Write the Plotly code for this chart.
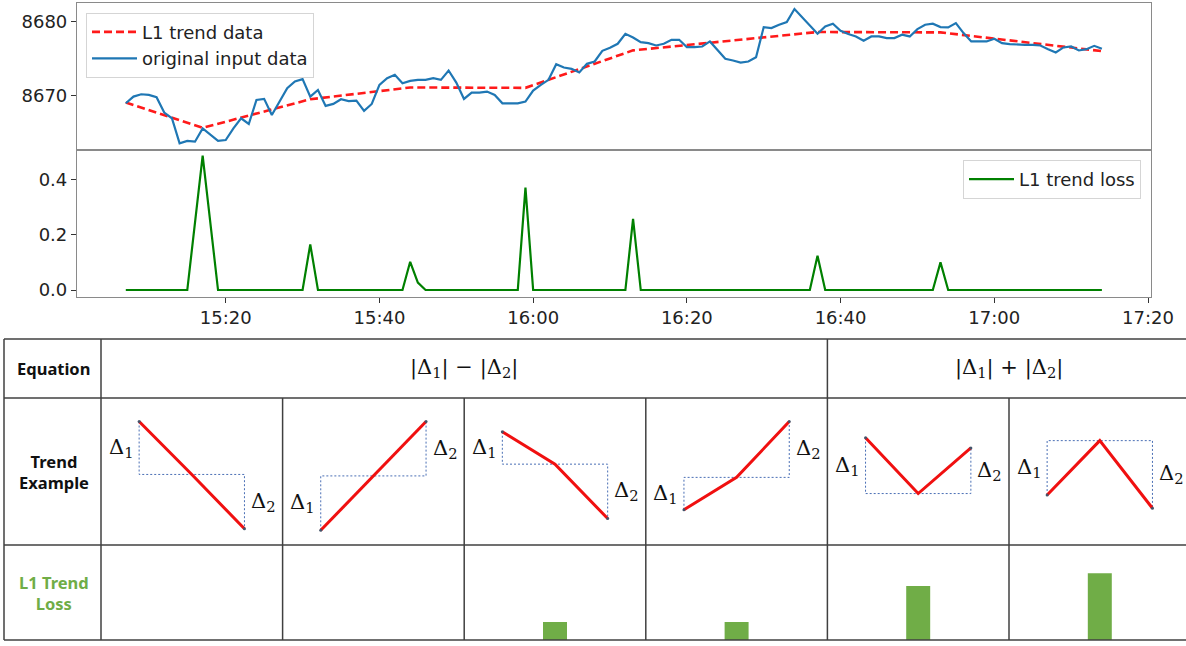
import pandas as pd
import plotly.graph_objects as go

W, H = 1186, 646
DAY = "2019-01-01 "

# ---- time series: one sample per minute from 15:07 to 17:14 ----
price = [
    8668.90, 8669.81, 8670.13, 8670.04, 8669.72, 8667.63, 8666.86, 8663.45, 8663.77, 8663.67,
    8665.49, 8664.58, 8663.77, 8663.90, 8665.49, 8666.86, 8666.08, 8669.36, 8669.50, 8667.31,
    8669.13, 8670.95, 8671.86, 8672.18, 8669.81, 8670.72, 8668.54, 8668.81, 8669.45, 8669.20,
    8669.25, 8667.86, 8668.81, 8671.40, 8672.31, 8672.77, 8671.63, 8671.95, 8672.09, 8672.09,
    8672.31, 8672.09, 8673.36, 8671.72, 8669.49, 8670.36, 8670.36, 8670.49, 8670.04, 8668.90,
    8668.90, 8668.90, 8669.13, 8670.63, 8671.40, 8672.09, 8674.22, 8673.77, 8673.59, 8673.09,
    8674.27, 8674.59, 8676.04, 8676.45, 8677.00, 8678.36, 8677.86, 8677.22, 8677.09, 8676.77,
    8677.00, 8677.54, 8677.54, 8676.54, 8676.54, 8676.63, 8677.32, 8676.09, 8674.95, 8674.72,
    8674.45, 8674.59, 8675.18, 8679.27, 8679.13, 8679.59, 8679.95, 8681.73, 8680.64, 8679.59,
    8678.36, 8679.36, 8679.73, 8678.77, 8678.32, 8678.00, 8677.41, 8678.00, 8678.00, 8677.77,
    8677.77, 8678.23, 8678.00, 8679.00, 8679.59, 8679.73, 8679.27, 8679.23, 8679.82, 8678.45,
    8677.32, 8677.32, 8677.32, 8677.68, 8677.09, 8676.95, 8676.86, 8676.86, 8676.86, 8676.77,
    8676.27, 8675.81, 8676.50, 8676.63, 8676.09, 8676.27, 8676.72, 8676.32,
]
price_times = pd.date_range(DAY + "15:07", periods=len(price), freq="min")

# piecewise-linear L1 trend (knots)
trend_times = ["15:07", "15:17", "15:31", "15:44", "15:59", "16:13", "16:37", "16:53", "17:14"]
trend_vals = [8669.0, 8665.55, 8669.45, 8671.05, 8671.0, 8676.1, 8678.6, 8678.55, 8676.0]

# L1 trend loss (knots)
loss_times = ["15:07", "15:15", "15:17", "15:19", "15:30", "15:31", "15:32", "15:43", "15:44",
              "15:45", "15:46", "15:58", "15:59", "16:00", "16:12", "16:13", "16:14", "16:36",
              "16:37", "16:38", "16:52", "16:53", "16:54", "17:14"]
loss_vals = [0, 0, 0.486, 0, 0, 0.165, 0, 0, 0.102,
             0.027, 0, 0, 0.37, 0, 0, 0.257, 0, 0,
             0.124, 0, 0, 0.10, 0, 0]

# ---- explanatory table ----
row_labels = ["Equation", "Trend<br>Example", "L1 Trend<br>Loss"]
equations = ["|Δ<sub>1</sub>| − |Δ<sub>2</sub>|", "|Δ<sub>1</sub>| + |Δ<sub>2</sub>|"]
equation_spans = [(0, 4), (4, 6)]
example_x = [-0.29, 0.0, 0.29]
example_y = [
    [0.84, 0.48, 0.11],
    [0.10, 0.47, 0.84],
    [0.77, 0.55, 0.18],
    [0.24, 0.46, 0.84],
    [0.73, 0.35, 0.66],
    [0.34, 0.71, 0.25],
]
example_loss = [0, 0, 0.2, 0.2, 0.6, 0.74]


def px(x):
    return x / W


def py(y):
    return 1 - y / H


def ts(s):
    return pd.Timestamp(DAY + s)


# layout geometry (pixels)
AX_L, AX_R = 77, 1150.7
TOP_T, MID, BOT_B = 3.3, 150.0, 296.7
T_TOP, R1, R2, T_BOT = 339, 398, 545, 640
T_LEFT, C0 = 4, 101
COLW = 181.6
col_edges = [C0 + i * COLW for i in range(7)]

fig = go.Figure()

fig.add_trace(go.Scatter(
    x=[ts(t) for t in trend_times], y=trend_vals, mode="lines", name="L1 trend data",
    line=dict(color="#ff1a1a", width=2.6, dash="8px,4px"), xaxis="x", yaxis="y"))
fig.add_trace(go.Scatter(
    x=price_times, y=price, mode="lines", name="original input data",
    line=dict(color="#1f77b4", width=2.2), xaxis="x", yaxis="y"))
fig.add_trace(go.Scatter(
    x=[ts(t) for t in loss_times], y=loss_vals, mode="lines", name="L1 trend loss",
    line=dict(color="#008000", width=2.2), xaxis="x2", yaxis="y2", legend="legend2"))

# trend examples
delta_font = dict(family="DejaVu Serif", size=21, color="#111")
for i, ys in enumerate(example_y):
    xs = [i + v for v in example_x]
    guide_x = [xs[0], xs[0], xs[2], xs[2]]
    guide_y = [ys[0], ys[1], ys[1], ys[2]]
    fig.add_trace(go.Scatter(x=guide_x, y=guide_y, mode="lines", showlegend=False,
                             line=dict(color="#4a6fb5", width=1, dash="2px,2px"),
                             xaxis="x3", yaxis="y3"))
    fig.add_trace(go.Scatter(x=xs, y=ys, mode="lines", showlegend=False,
                             line=dict(color="#f01010", width=3),
                             xaxis="x3", yaxis="y3"))
    fig.add_trace(go.Scatter(x=[xs[0], xs[2]], y=[ys[0], ys[2]], mode="markers",
                             showlegend=False, marker=dict(color="#44546a", size=3),
                             xaxis="x3", yaxis="y3"))
    fig.add_annotation(x=xs[0] - 0.02, y=(ys[0] + ys[1]) / 2, xref="x3", yref="y3",
                       text="Δ<sub>1</sub>", showarrow=False, xanchor="right", yanchor="middle",
                       font=delta_font)
    fig.add_annotation(x=xs[2] + 0.025, y=(ys[1] + ys[2]) / 2, xref="x3", yref="y3",
                       text="Δ<sub>2</sub>", showarrow=False, xanchor="left", yanchor="middle",
                       font=delta_font)

fig.add_trace(go.Bar(x=list(range(6)), y=example_loss, width=0.132, marker_color="#70ad47",
                     marker_line_width=0, showlegend=False, xaxis="x4", yaxis="y4"))

# table grid
grid = dict(color="#404040", width=1.5)
for yy in (T_TOP, R1, R2, T_BOT):
    fig.add_shape(type="line", xref="paper", yref="paper", x0=px(T_LEFT), x1=1,
                  y0=py(yy), y1=py(yy), line=grid)
for xx in (T_LEFT, C0, col_edges[4]):
    fig.add_shape(type="line", xref="paper", yref="paper", x0=px(xx), x1=px(xx),
                  y0=py(T_TOP), y1=py(T_BOT), line=grid)
for k in (1, 2, 3, 5):
    xx = col_edges[k]
    fig.add_shape(type="line", xref="paper", yref="paper", x0=px(xx), x1=px(xx),
                  y0=py(R1), y1=py(T_BOT), line=grid)

row_centers = [(T_TOP + R1) / 2, (R1 + R2) / 2, (R2 + T_BOT) / 2]
for i, (lab, yc) in enumerate(zip(row_labels, row_centers)):
    fig.add_annotation(x=px((T_LEFT + C0) / 2 + 1), y=py(yc), xref="paper", yref="paper",
                       xanchor="center", yanchor="middle", align="center",
                       text="<b>%s</b>" % lab, showarrow=False,
                       font=dict(family="Noto Sans", size=16.5,
                                 color="#70ad47" if i == 2 else "#111"))
for eq, (a, b) in zip(equations, equation_spans):
    xc = (col_edges[a] + col_edges[b]) / 2
    fig.add_annotation(x=px(xc), y=py((T_TOP + R1) / 2 - 1), xref="paper", yref="paper",
                       xanchor="center", yanchor="middle",
                       text=eq, showarrow=False,
                       font=dict(family="DejaVu Serif", size=21, color="#111"))

spine = "#8a8a8a"
tickfont = dict(family="DejaVu Sans", size=18, color="#222")
x_range = [ts("15:00:39"), ts("17:20:21")]
x_dom = [px(AX_L), px(AX_R)]
cols_range = [-0.5, -0.5 + (W - C0) / COLW]

fig.update_layout(
    width=W, height=H, autosize=False,
    margin=dict(l=0, r=0, t=0, b=0, autoexpand=False),
    paper_bgcolor="white", plot_bgcolor="white",
    xaxis=dict(domain=x_dom, anchor="y", type="date", range=x_range, showticklabels=False,
               ticks="", showgrid=False, zeroline=False, showline=True, mirror=True,
               linecolor=spine, linewidth=1.2, automargin=False),
    yaxis=dict(domain=[py(MID), py(TOP_T)], anchor="x", range=[8662.54, 8682.51],
               tickvals=[8670, 8680], ticks="outside", ticklen=5, tickcolor="#333",
               tickfont=tickfont, showgrid=False, zeroline=False, showline=True, mirror=True,
               linecolor=spine, linewidth=1.2, automargin=False),
    xaxis2=dict(domain=x_dom, anchor="y2", type="date", range=x_range,
                tick0=DAY + "15:20", dtick=20 * 60 * 1000, tickformat="%H:%M",
                ticks="outside", ticklen=5, tickcolor="#333", tickfont=tickfont,
                showgrid=False, zeroline=False, showline=True, mirror=True,
                linecolor=spine, linewidth=1.2, automargin=False),
    yaxis2=dict(domain=[py(BOT_B), py(MID)], anchor="x2", range=[-0.0242, 0.506],
                tickvals=[0, 0.2, 0.4], ticktext=["0.0", "0.2", "0.4"], ticks="outside",
                ticklen=5, tickcolor="#333", tickfont=tickfont, showgrid=False,
                zeroline=False, showline=True, mirror=True, linecolor=spine, linewidth=1.2,
                automargin=False),
    xaxis3=dict(domain=[px(C0), 1], anchor="y3", range=cols_range, visible=False),
    yaxis3=dict(domain=[py(R2), py(R1)], anchor="x3", range=[0, 1], visible=False),
    xaxis4=dict(domain=[px(C0), 1], anchor="y4", range=cols_range, visible=False),
    yaxis4=dict(domain=[py(T_BOT), py(R2)], anchor="x4", range=[0, 1.055], visible=False),
    legend=dict(x=px(86), y=py(12.7), xanchor="left", yanchor="top", itemwidth=45,
                bgcolor="rgba(255,255,255,0.85)", bordercolor="#d5d5d5", borderwidth=1,
                font=dict(family="DejaVu Sans", size=18, color="#222"), traceorder="normal"),
    legend2=dict(x=px(1141), y=py(160), xanchor="right", yanchor="top", itemwidth=45,
                 bgcolor="rgba(255,255,255,0.85)", bordercolor="#d5d5d5", borderwidth=1,
                 font=dict(family="DejaVu Sans", size=18, color="#222")),
    showlegend=True,
)

fig.write_html(
    "out.html",
    config={"displayModeBar": False, "responsive": False},
    post_script="document.body.style.margin='0';document.body.style.overflow='hidden';",
)
